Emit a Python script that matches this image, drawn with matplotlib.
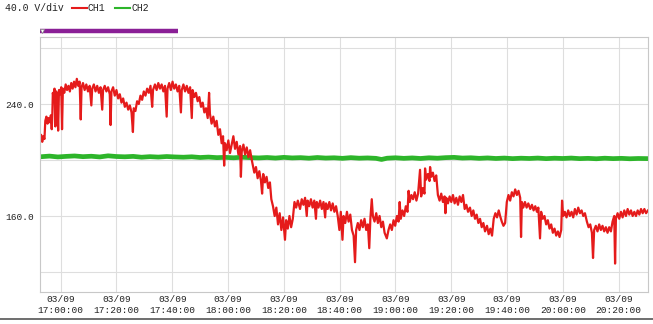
import numpy as np
import matplotlib
matplotlib.use('Agg')
import matplotlib.pyplot as plt
from matplotlib.lines import Line2D

# minutes after 03/09 17:00:00
t_ch1 = [-7.4, -7.0, -6.6, -6.2, -5.8, -5.5, -5.1, -4.7, -4.3, -3.9, -3.5, -3.2, -3.0, -2.8, -2.5, -2.2, -1.9, -1.6, -1.2, -0.9,
         -0.6, -0.2, 0.2, 0.5, 0.8, 1.3, 1.8, 2.3, 2.8, 3.3, 3.8, 4.3, 4.8, 5.3, 5.8, 6.3, 6.8, 7.2, 7.5, 8.0,
         8.6, 9.2, 9.8, 10.4, 11.0, 11.3, 11.9, 12.5, 13.1, 13.7, 14.3, 14.9, 15.2, 15.8, 16.4, 17.0, 17.6, 17.9, 18.2, 18.8,
         19.4, 20.0, 20.6, 21.2, 21.8, 22.4, 23.0, 23.6, 24.2, 24.8, 25.4, 25.9, 26.2, 26.8, 27.4, 28.0, 28.6, 29.2, 29.8, 30.4,
         31.0, 31.6, 32.2, 32.8, 33.1, 33.8, 34.4, 35.0, 35.6, 36.2, 36.8, 37.4, 38.0, 38.3, 38.9, 39.5, 40.1, 40.7, 41.3, 41.9,
         42.5, 43.1, 43.4, 44.0, 44.6, 45.2, 45.8, 46.4, 47.0, 47.3, 47.9, 48.5, 49.1, 49.7, 50.3, 50.9, 51.5, 52.1, 52.7, 53.2,
         53.5, 54.1, 54.7, 55.3, 55.9, 56.5, 57.1, 57.7, 58.2, 58.6, 58.9, 59.5, 60.1, 60.7, 61.3, 61.9, 62.5, 63.1, 63.7, 64.3,
         64.6, 64.9, 65.5, 66.1, 66.7, 67.3, 67.9, 68.5, 68.9, 69.4, 70.0, 70.6, 71.2, 71.8, 72.2, 72.6, 73.2, 73.8, 74.4, 75.0,
         75.5, 76.1, 76.7, 77.3, 77.9, 78.5, 79.1, 79.7, 80.4, 80.8, 81.4, 82.0, 82.6, 83.2, 83.8, 84.4, 85.0, 85.8, 86.4, 87.0,
         87.6, 88.2, 88.5, 89.1, 89.7, 90.3, 90.9, 91.5, 91.8, 92.4, 93.0, 93.6, 94.2, 94.8, 95.1, 95.7, 96.3, 96.9, 97.5, 98.1,
         98.7, 99.3, 99.9, 100.4, 101.0, 101.4, 102.0, 102.6, 103.2, 103.8, 104.4, 105.0, 105.5, 105.9, 106.5, 107.1, 107.7, 108.3, 108.9, 109.5,
         110.1, 110.6, 111.0, 111.5, 111.9, 112.5, 113.1, 113.7, 114.3, 114.9, 115.5, 116.1, 116.9, 117.5, 118.1, 118.7, 119.3, 119.9, 120.5, 121.1,
         121.5, 121.9, 122.5, 123.1, 123.7, 124.3, 124.7, 125.1, 125.7, 126.3, 126.9, 127.5, 128.1, 128.8, 129.2, 129.8, 130.4, 130.6, 131.0, 131.6,
         132.2, 132.4, 132.8, 133.4, 134.0, 134.6, 135.2, 135.8, 136.4, 137.0, 137.6, 137.9, 138.2, 138.8, 139.4, 140.0, 140.6, 141.2, 141.8, 142.4,
         143.0, 143.6, 144.2, 144.8, 145.4, 146.0, 146.7, 147.3, 147.9, 148.5, 149.1, 149.7, 150.3, 150.9, 151.5, 152.1, 152.8, 153.4, 154.0, 154.6,
         155.2, 155.8, 156.4, 157.0, 157.5, 158.1, 158.7, 159.3, 159.9, 160.5, 161.1, 161.7, 162.3, 162.9, 163.5, 164.1, 164.7, 165.0, 165.3, 165.8,
         166.4, 167.0, 167.6, 168.3, 168.9, 169.5, 170.1, 170.7, 171.2, 171.8, 172.2, 172.8, 173.4, 174.0, 174.6, 175.2, 175.8, 176.4, 177.0, 177.6,
         178.2, 178.8, 179.4, 179.7, 180.1, 180.7, 181.3, 181.9, 182.5, 183.1, 183.7, 184.3, 184.9, 185.5, 186.1, 186.7, 187.3, 187.9, 188.6, 189.2,
         189.8, 190.4, 190.8, 191.2, 191.8, 192.4, 193.0, 193.6, 194.2, 194.8, 195.4, 196.0, 196.6, 197.2, 197.8, 198.4, 198.7, 199.0, 199.6, 200.2,
         200.8, 201.4, 202.0, 202.6, 203.2, 203.8, 204.4, 205.0, 205.6, 206.2, 206.8, 207.4, 208.0, 208.6, 209.2, 209.8, 210.5]
v_ch1 = [214, 218, 213, 217, 215, 228, 231, 226, 230, 227, 232, 222, 231, 248, 244, 251, 224, 249, 246, 221,
         250, 247, 252, 222, 251, 248, 254, 250, 253, 249, 255, 251, 256, 252, 258, 253, 256, 229, 252, 255,
         250, 254, 249, 253, 239, 251, 254, 249, 253, 248, 252, 236, 250, 253, 249, 252, 247, 225, 249, 252,
         246, 250, 244, 247, 241, 244, 238, 241, 236, 239, 234, 220, 237, 235, 242, 240, 246, 243, 249, 246,
         251, 248, 253, 238, 250, 254, 250, 255, 251, 254, 249, 253, 231, 251, 255, 250, 256, 251, 254, 249,
         253, 234, 250, 254, 249, 253, 248, 252, 230, 250, 245, 248, 242, 245, 238, 241, 234, 237, 230, 248,
         233, 226, 231, 224, 228, 218, 222, 212, 217, 196, 212, 207, 214, 205, 211, 217, 208, 213, 204, 210,
         188, 206, 211, 204, 209, 202, 207, 200, 196, 191, 195, 187, 192, 185, 176, 190, 184, 188, 180, 184,
         172, 167, 160, 166, 154, 162, 150, 159, 143, 157, 151, 160, 152, 158, 170, 166, 171, 165, 172, 168,
         173, 160, 171, 167, 172, 166, 171, 158, 170, 166, 171, 165, 170, 159, 169, 165, 170, 164, 169, 163,
         167, 160, 150, 163, 143, 160, 155, 163, 156, 161, 150, 146, 127, 150, 155, 150, 157, 152, 158, 150,
         154, 137, 158, 172, 160, 156, 162, 155, 160, 152, 156, 148, 144, 150, 154, 150, 157, 153, 160, 156,
         170, 158, 164, 160, 167, 163, 178, 170, 175, 172, 177, 171, 176, 193, 174, 180, 176, 194, 186, 190,
         185, 195, 188, 191, 185, 189, 175, 171, 176, 170, 174, 162, 173, 169, 174, 170, 175, 169, 173, 168,
         174, 170, 175, 165, 168, 163, 166, 160, 164, 158, 161, 155, 158, 152, 155, 149, 153, 147, 151, 146,
         158, 162, 159, 164, 160, 156, 153, 155, 170, 175, 171, 177, 174, 179, 175, 178, 173, 145, 170, 166,
         170, 166, 169, 165, 168, 164, 167, 163, 166, 144, 163, 158, 160, 154, 157, 151, 154, 148, 151, 146,
         149, 145, 150, 171, 160, 163, 159, 164, 160, 163, 159, 165, 161, 166, 162, 164, 160, 162, 156, 152,
         154, 148, 130, 150, 153, 149, 154, 150, 153, 149, 152, 148, 152, 149, 156, 160, 126, 158, 162, 158,
         163, 159, 164, 160, 165, 161, 164, 160, 163, 160, 164, 161, 165, 162, 165, 162, 164]

t_ch2 = [-7.4, -4, -1, 2, 5, 8, 11, 14, 17, 20, 23, 26, 29, 32, 35, 38, 41, 44, 47, 50,
         53, 56, 59, 62, 65, 68, 71, 74, 77, 80, 83, 86, 89, 92, 95, 98, 101, 104, 107, 110,
         113, 115, 117, 120, 123, 126, 129, 132, 135, 138, 141, 144, 147, 150, 153, 156, 159, 162, 165, 168,
         171, 174, 177, 180, 183, 186, 189, 192, 195, 198, 201, 204, 207, 210.5]
v_ch2 = [202.3, 202.8, 202.2, 202.6, 202.9, 202.4, 202.7, 202.2, 203.0, 202.5, 202.3, 202.6, 202.0, 202.4, 202.1, 202.5, 202.2, 202.0, 202.3, 201.8,
         202.1, 201.7, 201.9, 201.6, 202.0, 201.7, 201.5, 201.8, 201.4, 201.9, 201.5, 201.7, 201.3, 201.8, 201.4, 201.6, 201.2, 201.7, 201.3, 201.5,
         201.2, 200.4, 201.3, 201.6, 201.2, 201.5, 201.1, 201.6, 201.3, 201.7, 201.9, 201.4, 201.6, 201.2, 201.5, 201.1, 201.4, 201.0, 201.3, 201.1,
         201.4, 201.0, 201.3, 201.1, 201.4, 201.0, 201.2, 200.9, 201.3, 201.0, 201.2, 200.9, 201.1, 201.0]

purple_span = [-7.4, 42.0]
x_ticks = [0, 20, 40, 60, 80, 100, 120, 140, 160, 180, 200]
x_labels = ['03/09\n17:00:00', '03/09\n17:20:00', '03/09\n17:40:00', '03/09\n18:00:00', '03/09\n18:20:00', '03/09\n18:40:00',
            '03/09\n19:00:00', '03/09\n19:20:00', '03/09\n19:40:00', '03/09\n20:00:00', '03/09\n20:20:00']
y_ticks = [120, 160, 200, 240, 280]
y_labels = ['', '160.0', '', '240.0', '']

mono = 'Liberation Mono'
txt = '#222222'

fig = plt.figure(figsize=(6.53, 3.24), dpi=100)
ax = fig.add_axes([40/653, 32/324, 608/653, 255/324])

ax.plot(t_ch2, v_ch2, color='#2db52a', lw=3.4, solid_joinstyle='round')
ax.plot(t_ch1, v_ch1, color='#e51b1b', lw=1.6)

ax.set_xlim(-7.4, 210.5)
ax.set_ylim(105.7, 287.9)
ax.set_xticks(x_ticks)
ax.set_xticklabels(x_labels, fontfamily=mono, fontsize=6.8, color=txt, linespacing=1.25)
ax.set_yticks(y_ticks)
ax.set_yticklabels(y_labels, fontfamily=mono, fontsize=6.8, color=txt)
ax.tick_params(length=0, pad=4)
ax.tick_params(axis='x', pad=2)
ax.grid(True, color='#dedede', lw=0.8)
ax.set_axisbelow(True)
for s in ax.spines.values():
    s.set_color('#c8c8c8')
    s.set_linewidth(0.8)

# range bar above plot
ax.plot(purple_span, [292.1, 292.1], color='#8a1f96', lw=3.2, solid_capstyle='butt', clip_on=False)
ax.plot([purple_span[0] + 0.6], [292.1], marker='v', ms=3, color='white', mec='#888888', mew=0.5, clip_on=False)

# legend line
fig.text(5/653, 1 - 8/324, '40.0 V/div', fontfamily=mono, fontsize=7, color=txt, va='center')
fig.add_artist(Line2D([72/653, 87/653], [1 - 8/324] * 2, color='#e51b1b', lw=1.5))
fig.text(88/653, 1 - 8/324, 'CH1', fontfamily=mono, fontsize=7, color=txt, va='center')
fig.add_artist(Line2D([115/653, 130/653], [1 - 8/324] * 2, color='#2db52a', lw=1.5))
fig.text(131/653, 1 - 8/324, 'CH2', fontfamily=mono, fontsize=7, color=txt, va='center')

fig.add_artist(Line2D([0, 1], [1 - 319/324] * 2, color='#555555', lw=1.2))

fig.savefig('out.png', dpi=100)
